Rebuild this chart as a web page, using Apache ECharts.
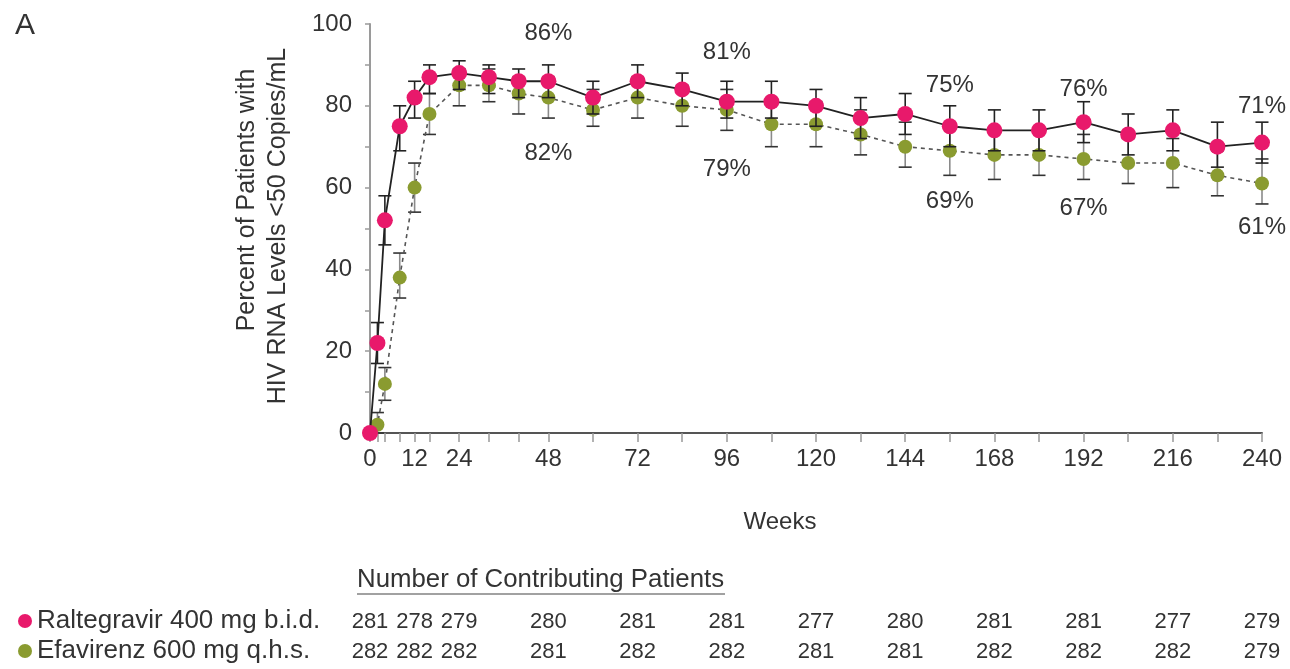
<!DOCTYPE html>
<html>
<head>
<meta charset="utf-8">
<title>Virologic response through week 240</title>
<script src="https://cdn.jsdelivr.net/npm/echarts@6/dist/echarts.min.js"></script>
<style>
  html, body { margin: 0; padding: 0; background: #fff; }
  #chart { width: 1290px; height: 669px; }
</style>
</head>
<body>
<div id="chart"></div>
<script>
// Study visits (weeks) at which response was assessed
const weeks = [0, 2, 4, 8, 12, 16, 24, 32, 40, 48, 60, 72, 84, 96, 108, 120, 132, 144, 156, 168, 180, 192, 204, 216, 228, 240];

// Percent of patients with HIV RNA < 50 copies/mL
const raltegravir = [0, 22, 52, 75, 82, 87, 88, 87, 86, 86, 82, 86, 84, 81, 81, 80, 77, 78, 75, 74, 74, 76, 73, 74, 70, 71];
const efavirenz   = [0, 2, 12, 38, 60, 78, 85, 85, 83, 82, 79, 82, 80, 79, 75.5, 75.5, 73, 70, 69, 68, 68, 67, 66, 66, 63, 61];

// 95% confidence limits
const raltegravirLow  = [0, 17, 46, 69, 77, 83, 84, 83, 82, 82, 78, 82, 80, 77, 77, 75, 72, 73, 70, 69, 69, 71, 68, 69, 65, 66];
const raltegravirHigh = [0, 27, 58, 80, 86, 90, 91, 90, 89, 90, 86, 90, 88, 86, 86, 84, 82, 83, 80, 79, 79, 81, 78, 79, 76, 76];
const efavirenzLow    = [0, 0, 8, 33, 54, 73, 80, 81, 78, 77, 75, 77, 75, 74, 70, 70, 68, 65, 63, 62, 63, 62, 61, 60, 58, 56];
const efavirenzHigh   = [0, 5, 16, 44, 66, 83, 89, 89, 87, 87, 84, 87, 85, 84, 81, 81, 79, 76, 75, 74, 74, 73, 72, 72, 69, 67];

// Labelled axis weeks and number of contributing patients at each
const tickWeeks = [0, 12, 24, 48, 72, 96, 120, 144, 168, 192, 216, 240];
const raltegravirN = [281, 278, 279, 280, 281, 281, 277, 280, 281, 281, 277, 279];
const efavirenzN   = [282, 282, 282, 281, 282, 282, 281, 281, 282, 282, 282, 279];

// Weeks whose percentage is printed on the plot
const labelWeeks = [48, 96, 156, 192, 240];

const seriesNames = ['Raltegravir 400 mg b.i.d.', 'Efavirenz 600 mg q.h.s.'];

// ---- styling ----
const FONT = '"Liberation Sans", Arial, Helvetica, sans-serif';
const TEXT = '#333';
const PINK = '#e8196b';
const OLIVE = '#8a9b30';
// vertical distance (px) between a point and its percentage label
const pinkLabelLift = { 48: 48, 96: 49, 156: 41, 192: 33, 240: 36 };
const oliveLabelDrop = { 48: 56, 96: 59, 156: 51, 192: 49, 240: 44 };

function pointData(values, offsets, sign) {
  return weeks.map((w, i) => {
    const item = { value: [w, values[i]] };
    if (labelWeeks.includes(w)) {
      item.label = {
        show: true,
        position: 'inside',
        offset: [0, sign * offsets[w]],
        formatter: values[i] + '%',
        color: TEXT,
        fontSize: 24,
        fontFamily: FONT
      };
    }
    return item;
  });
}

function barData(low, high) {
  return weeks.map((w, i) => [w, low[i], high[i]]);
}

function errorBarRenderer(stemColor, capColor) {
  return function (params, api) {
    const x = api.value(0), lo = api.value(1), hi = api.value(2);
    if (hi - lo <= 0) return null;
    const top = api.coord([x, hi]);
    const bot = api.coord([x, lo]);
    const half = 6.5;
    return {
      type: 'group',
      children: [
        { type: 'line', shape: { x1: top[0], y1: top[1], x2: bot[0], y2: bot[1] },
          style: { stroke: stemColor, lineWidth: 1.6 } },
        { type: 'line', shape: { x1: top[0] - half, y1: top[1], x2: top[0] + half, y2: top[1] },
          style: { stroke: capColor, lineWidth: 1.6 } },
        { type: 'line', shape: { x1: bot[0] - half, y1: bot[1], x2: bot[0] + half, y2: bot[1] },
          style: { stroke: capColor, lineWidth: 1.6 } }
      ]
    };
  };
}

function countAxis(counts, offset) {
  return {
    type: 'value', min: 0, max: 240, interval: 12, position: 'bottom', offset: offset,
    axisLine: { show: false }, axisTick: { show: false }, splitLine: { show: false },
    axisLabel: {
      customValues: tickWeeks,
      margin: 6,
      color: TEXT, fontSize: 22, fontFamily: FONT,
      formatter: v => { const i = tickWeeks.indexOf(v); return i >= 0 ? String(counts[i]) : ''; }
    }
  };
}

function legendRow(name, top) {
  return {
    data: [name],
    orient: 'horizontal',
    left: 18, top: top, padding: 0,
    icon: 'circle', itemWidth: 14, itemHeight: 14,
    selectedMode: false,
    textStyle: { color: TEXT, fontSize: 26, fontFamily: FONT, lineHeight: 26 }
  };
}

const chart = echarts.init(document.getElementById('chart'), null, { renderer: 'canvas' });

chart.setOption({
  backgroundColor: '#fff',
  animation: false,
  textStyle: { fontFamily: FONT },
  grid: { left: 370, right: 28, top: 24, bottom: 236, containLabel: false, outerBoundsMode: 'none' },
  legend: [legendRow(seriesNames[0], 608), legendRow(seriesNames[1], 638)],
  xAxis: [
    {
      type: 'value', min: 0, max: 240, interval: 12,
      axisLine: { show: true, lineStyle: { color: '#555', width: 2 } },
      axisTick: { show: true, customValues: weeks, length: 9, lineStyle: { color: '#999', width: 1.5 } },
      splitLine: { show: false },
      axisLabel: {
        customValues: tickWeeks,
        margin: 14, color: TEXT, fontSize: 24, fontFamily: FONT,
        formatter: v => (tickWeeks.includes(v) ? String(v) : '')
      }
    },
    countAxis(raltegravirN, 172),
    countAxis(efavirenzN, 202)
  ],
  yAxis: {
    type: 'value', min: 0, max: 100, interval: 20,
    axisLine: { show: true, lineStyle: { color: '#9a9a9a', width: 2 } },
    axisTick: { show: true, length: 5, lineStyle: { color: '#9a9a9a', width: 1.5 } },
    minorTick: { show: true, splitNumber: 2, length: 5, lineStyle: { color: '#9a9a9a', width: 1.5 } },
    splitLine: { show: false },
    axisLabel: { margin: 18, color: TEXT, fontSize: 24, fontFamily: FONT }
  },
  series: [
    {
      type: 'custom', name: 'efavirenz CI', silent: true, z: 2,
      renderItem: errorBarRenderer('#8a8a8a', '#333'),
      data: barData(efavirenzLow, efavirenzHigh)
    },
    {
      type: 'line', name: seriesNames[1], z: 3,
      symbol: 'circle', symbolSize: 14,
      itemStyle: { color: OLIVE },
      lineStyle: { color: '#555', width: 1.6, type: [4, 4] },
      data: pointData(efavirenz, oliveLabelDrop, 1)
    },
    {
      type: 'custom', name: 'raltegravir CI', silent: true, z: 4,
      renderItem: errorBarRenderer('#222', '#222'),
      data: barData(raltegravirLow, raltegravirHigh)
    },
    {
      type: 'line', name: seriesNames[0], z: 5,
      symbol: 'circle', symbolSize: 16,
      itemStyle: { color: PINK },
      lineStyle: { color: '#222', width: 1.8 },
      data: pointData(raltegravir, pinkLabelLift, -1)
    }
  ],
  graphic: [
    { type: 'text', x: 25, y: 26,
      style: { text: 'A', fontSize: 30, fontFamily: FONT, fill: TEXT, align: 'center', verticalAlign: 'middle' } },
    { type: 'text', x: 247, y: 200, rotation: Math.PI / 2,
      style: { text: 'Percent of Patients with', fontSize: 25, fontFamily: FONT, fill: TEXT, align: 'center', verticalAlign: 'middle' } },
    { type: 'text', x: 278, y: 226, rotation: Math.PI / 2,
      style: { text: 'HIV RNA Levels <50 Copies/mL', fontSize: 25, fontFamily: FONT, fill: TEXT, align: 'center', verticalAlign: 'middle' } },
    { type: 'text', x: 780, y: 522,
      style: { text: 'Weeks', fontSize: 24, fontFamily: FONT, fill: TEXT, align: 'center', verticalAlign: 'middle' } },
    { type: 'text', x: 357, y: 580,
      style: { text: 'Number of Contributing Patients', fontSize: 25.8, fontFamily: FONT, fill: TEXT, align: 'left', verticalAlign: 'middle' } },
    { type: 'line', shape: { x1: 357, y1: 594, x2: 725, y2: 594 },
      style: { stroke: '#444', lineWidth: 1.2 } }
  ]
});
</script>
</body>
</html>
